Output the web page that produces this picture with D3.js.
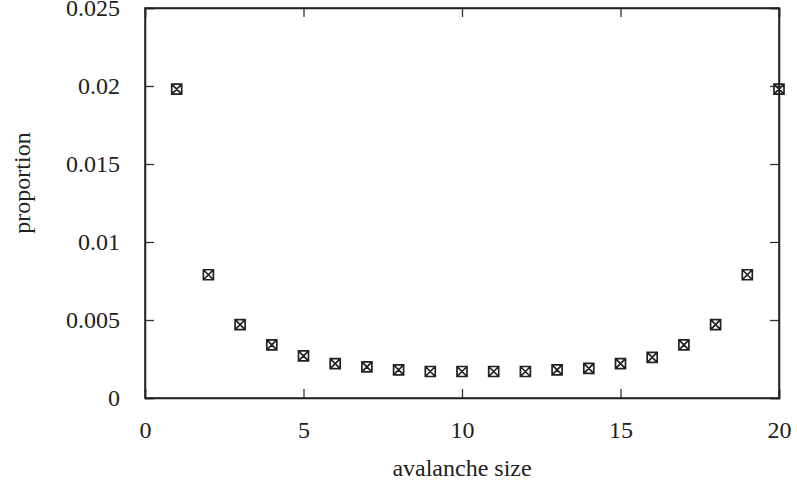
<!doctype html>
<html lang="en">
<head>
  <meta charset="UTF-8">
  <script src="https://cdn.jsdelivr.net/npm/d3@7/dist/d3.min.js"></script>
  <title>avalanche size</title>
  <style>
    body { margin: 0; background: #fff; }
    .chart text { font-family: "Liberation Serif", "Times New Roman", serif; font-size: 24px; fill: #222; }
  </style>
</head>
<body>
  <div class="chart"></div>
  <script>
    // avalanche size vs proportion
    const sizes = [1, 2, 3, 4, 5, 6, 7, 8, 9, 10, 11, 12, 13, 14, 15, 16, 17, 18, 19, 20];
    const proportions = [0.0198, 0.0079, 0.0047, 0.0034, 0.0027, 0.0022, 0.0020, 0.0018, 0.0017, 0.0017,
                         0.0017, 0.0017, 0.0018, 0.0019, 0.0022, 0.0026, 0.0034, 0.0047, 0.0079, 0.0198];
    const xTicks = [0, 5, 10, 15, 20];
    const yTicks = [0, 0.005, 0.01, 0.015, 0.02, 0.025];

    const W = 797, H = 480;
    const margin = { top: 8, right: 18, bottom: 82, left: 145 };
    const width = W - margin.left - margin.right;
    const height = H - margin.top - margin.bottom;

    const svg = d3.select('.chart').append('svg')
      .attr('width', W).attr('height', H);
    const g = svg.append('g').attr('transform', `translate(${margin.left},${margin.top})`);

    const x = d3.scaleLinear().domain([0, 20]).range([0, width]);
    const y = d3.scaleLinear().domain([0, 0.025]).range([height, 0]);

    const tk = 9;
    const fmtY = d => d === 0 ? '0' : String(+d.toFixed(3));

    // left axis with labels, ticks inward
    g.append('g').call(d3.axisLeft(y).tickValues(yTicks).tickSize(-tk).tickPadding(25).tickFormat(fmtY));
    // right mirror
    g.append('g').attr('transform', `translate(${width},0)`)
      .call(d3.axisRight(y).tickValues(yTicks).tickSize(-tk).tickFormat(''));
    // bottom axis
    g.append('g').attr('transform', `translate(0,${height})`)
      .call(d3.axisBottom(x).tickValues(xTicks).tickSize(-tk).tickPadding(23).tickFormat(d3.format('d')));
    // top mirror
    g.append('g').call(d3.axisTop(x).tickValues(xTicks).tickSize(-tk).tickFormat(''));

    g.selectAll('.domain').attr('stroke', '#222').attr('stroke-width', 1.5);
    g.selectAll('.tick line').attr('stroke', '#333').attr('stroke-width', 1.3);
    g.selectAll('.tick text').attr('fill', '#222')
      .style('font-family', '"Liberation Serif", serif').style('font-size', '24px');

    // frame
    g.append('rect').attr('width', width).attr('height', height)
      .attr('fill', 'none').attr('stroke', '#222').attr('stroke-width', 1.5);

    // boxed-x markers
    const s = 5;
    const pts = g.selectAll('g.pt').data(sizes.map((d, i) => [d, proportions[i]]))
      .enter().append('g').classed('pt', true)
      .attr('transform', d => `translate(${x(d[0])},${y(d[1])})`);
    pts.append('path')
      .attr('d', `M${-s},${-s}H${s}V${s}H${-s}Z M${-s},${-s}L${s},${s} M${s},${-s}L${-s},${s}`)
      .attr('fill', 'none').attr('stroke', '#222').attr('stroke-width', 1.7);

    svg.append('text').attr('x', margin.left + width / 2).attr('y', 476)
      .attr('text-anchor', 'middle').text('avalanche size');
    svg.append('text').attr('transform', `translate(30,183) rotate(-90)`)
      .attr('text-anchor', 'middle').text('proportion');
  </script>
</body>
</html>
